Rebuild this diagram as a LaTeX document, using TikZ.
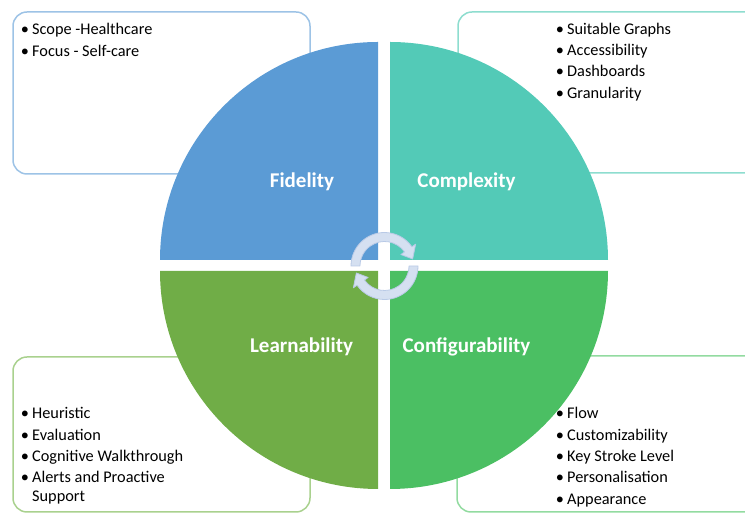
\documentclass[tikz,border=0pt]{standalone}
\usepackage{fontspec}
\setmainfont{Carlito}
\usetikzlibrary{calc}

\definecolor{fidelity}{HTML}{5B9BD5}
\definecolor{complexity}{HTML}{53CAB7}
\definecolor{learnability}{HTML}{70AD47}
\definecolor{configurability}{HTML}{4BBF63}
\definecolor{fidelityedge}{HTML}{9DC3E6}
\definecolor{complexityedge}{HTML}{8EDDCF}
\definecolor{learnabilityedge}{HTML}{A9D18E}
\definecolor{configurabilityedge}{HTML}{92DBA0}
\definecolor{cyclefill}{HTML}{D5E0F1}
\definecolor{cycleedge}{HTML}{B9CAE6}

\begin{document}
\begin{tikzpicture}[x=1pt,y=1pt,
  itemtext/.style={anchor=base west, inner sep=0pt, text=black,
    font=\fontsize{16.3}{19}\selectfont},
  dot/.style={anchor=base, inner sep=0pt, text=black,
    font=\fontsize{16.3}{19}\selectfont},
  quadlabel/.style={anchor=base, inner sep=0pt, text=white,
    font=\fontsize{21}{24}\selectfont\bfseries},
  infobox/.style={line width=1.5pt, rounded corners=14pt, fill=white},
  cyclearrow/.style={fill=cyclefill, draw=cycleedge, line width=0.8pt, line join=round}]
\useasboundingbox (0,0) rectangle (745,513);
\clip (0,0) rectangle (745,513);

% outer information boxes
\draw[infobox, draw=fidelityedge] (13,339) rectangle (310,501);
\draw[infobox, draw=complexityedge] (458,340) rectangle (762,501);
\draw[infobox, draw=learnabilityedge] (13,1) rectangle (310,156);
\draw[infobox, draw=configurabilityedge] (457,1) rectangle (762,157);

% four quadrants of the circle
\def\R{218}
\fill[fidelity] (378,253) -- ++(-\R,0) arc[start angle=180, end angle=90, radius=\R] -- cycle;
\fill[complexity] (390,253) -- ++(0,\R) arc[start angle=90, end angle=0, radius=\R] -- cycle;
\fill[learnability] (378,242) -- ++(-\R,0) arc[start angle=180, end angle=270, radius=\R] -- cycle;
\fill[configurability] (390,242) -- ++(\R,0) arc[start angle=0, end angle=-90, radius=\R] -- cycle;

% circular arrows in the centre
\coordinate (C) at (384.5,247);
\begin{scope}[shift={(C)}]
  \path[cyclearrow] (180:33.5) arc[start angle=180, end angle=35, radius=33.5]
    -- (35:38) -- (14:29) -- (35:20) -- (35:24.5)
    arc[start angle=35, end angle=180, radius=24.5] -- cycle;
  \path[cyclearrow] (0:33.5) arc[start angle=0, end angle=-145, radius=33.5]
    -- (-145:38) -- (194:29) -- (-145:20) -- (-145:24.5)
    arc[start angle=-145, end angle=0, radius=24.5] -- cycle;
\end{scope}

% quadrant titles
\node[quadlabel] (fid) at (302,325) {Fidelity};
\node[quadlabel] (cpx) at (466.5,325) {Complexity};
\node[quadlabel] (lrn) at (301.5,160) {Learnability};
\node[quadlabel] (cfg) at (466.5,160) {Configurability};

% bullet lists
\foreach \t [count=\i] in {Scope -Healthcare, Focus - Self-care} {
  \node[dot] (tlb\i) at (25,{478-21.3*(\i-1)}) {•};
  \node[itemtext] (tlt\i) at (32,{478-21.3*(\i-1)}) {\t};
}
\foreach \t [count=\i] in {Suitable Graphs, Accessibility, Dashboards, Granularity} {
  \node[dot] (trb\i) at (560,{478.7-21.3*(\i-1)}) {•};
  \node[itemtext] (trt\i) at (567,{478.7-21.3*(\i-1)}) {\t};
}
\foreach \t [count=\i] in {Heuristic, Evaluation, Cognitive Walkthrough, Alerts and Proactive} {
  \node[dot] (blb\i) at (25,{94-21.3*(\i-1)}) {•};
  \node[itemtext] (blt\i) at (32,{94-21.3*(\i-1)}) {\t};
}
\node[itemtext] (blt5) at (32,11) {Support};
\foreach \t [count=\i] in {Flow, Customizability, Key Stroke Level, Personalisation, Appearance} {
  \node[dot] (brb\i) at (560,{94-21.3*(\i-1)}) {•};
  \node[itemtext] (brt\i) at (567,{94-21.3*(\i-1)}) {\t};
}
\end{tikzpicture}
\end{document}
